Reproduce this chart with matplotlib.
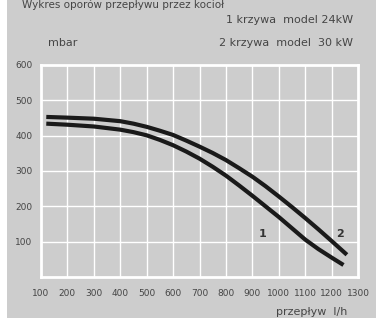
import matplotlib.pyplot as plt
from matplotlib.patches import Rectangle

# Curve data (flow l/h vs resistance mbar)
flow_2 = [120, 200, 300, 400, 450, 500, 550, 600, 650, 700, 750, 800, 850,
          900, 950, 1000, 1050, 1100, 1150, 1200, 1258]
mbar_2 = [453, 451, 448, 441, 434, 425, 414, 402, 386, 369, 351, 331, 308,
          284, 257, 228, 198, 167, 135, 102, 63]
flow_1 = [120, 200, 300, 400, 450, 500, 550, 600, 650, 700, 750, 800, 850,
          900, 950, 1000, 1050, 1100, 1150, 1200, 1245]
mbar_1 = [434, 431, 426, 417, 410, 401, 388, 373, 355, 335, 312, 287, 259,
          230, 200, 170, 138, 106, 79, 55, 34]

x_ticks = [100, 200, 300, 400, 500, 600, 700, 800, 900, 1000, 1100, 1200, 1300]
y_ticks = [100, 200, 300, 400, 500, 600]

bg = "#cdcdcd"
txt = "#454545"
plt.rcParams["font.family"] = ["Liberation Sans Narrow", "DejaVu Sans"]

fig = plt.figure(figsize=(3.76, 3.18), dpi=100, facecolor=bg)
fig.patches.append(Rectangle((0, 0), 7 / 376, 1, transform=fig.transFigure,
                             facecolor="white", edgecolor="none"))

ax = fig.add_axes([41 / 376, 41 / 318, 317 / 376, 212 / 318])
ax.set_facecolor(bg)
ax.set_xlim(114, 1300)
ax.set_ylim(0, 600)

for v in range(200, 1300, 100):
    ax.axvline(v, color="white", lw=1.0, zorder=1)
for v in y_ticks[:-1]:
    ax.axhline(v, color="white", lw=1.0, zorder=1)
for s in ax.spines.values():
    s.set_color("white")
    s.set_linewidth(2)

ax.plot(flow_2, mbar_2, color="#1a1a1a", lw=3.0, solid_capstyle="butt",
        solid_joinstyle="round", zorder=3)
ax.plot(flow_1, mbar_1, color="#1a1a1a", lw=3.0, solid_capstyle="butt",
        solid_joinstyle="round", zorder=3)

ax.text(940, 122, "1", fontsize=8, fontweight="bold", color="#333333",
        ha="center", va="center")
ax.text(1232, 122, "2", fontsize=8, fontweight="bold", color="#333333",
        ha="center", va="center")

ax.set_xticks(x_ticks)
ax.set_yticks(y_ticks)
ax.tick_params(length=0, labelsize=6.5, colors=txt, pad=6)
ax.tick_params(axis="x", pad=9)

fig.text(22 / 376, 1.0, "Wykres oporów przepływu przez kocioł", fontsize=7.5,
         color=txt, ha="left", va="top")
fig.text(353 / 376, 1 - 20 / 318, "1 krzywa  model 24kW", fontsize=8,
         color=txt, ha="right", va="center")
fig.text(353 / 376, 1 - 43 / 318, "2 krzywa  model  30 kW", fontsize=8,
         color=txt, ha="right", va="center")
fig.text(48 / 376, 1 - 43 / 318, "mbar", fontsize=8, color=txt,
         ha="left", va="center")
fig.text(347 / 376, 1 - 312 / 318, "przepływ  l/h", fontsize=8, color=txt,
         ha="right", va="center")

fig.savefig("out.png", dpi=100, facecolor=bg)
